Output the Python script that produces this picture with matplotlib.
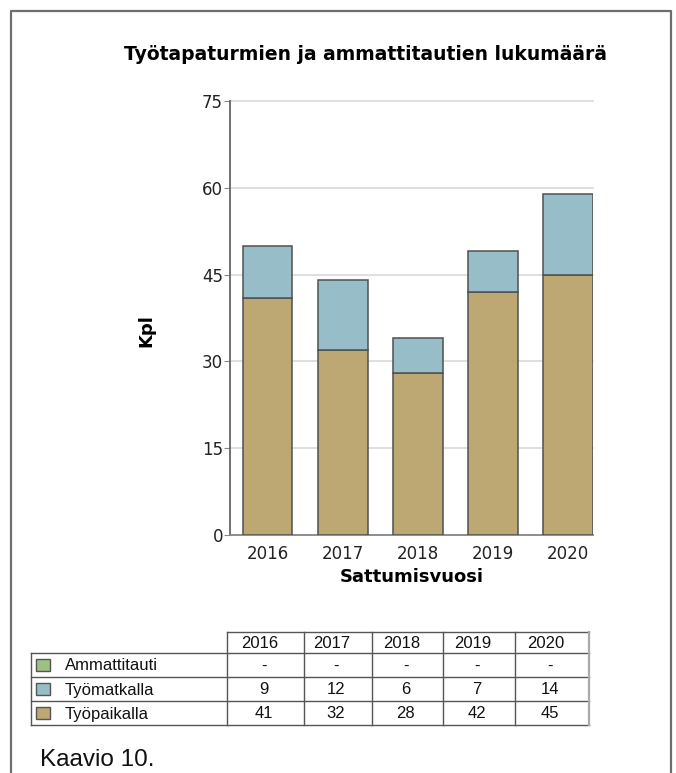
import matplotlib
matplotlib.use('Agg')
import matplotlib.pyplot as plt
import numpy as np

years = ['2016', '2017', '2018', '2019', '2020']
series_names = ['Ammattitauti', 'Työmatkalla', 'Työpaikalla']
ammattitauti = [0, 0, 0, 0, 0]
tyomatkalla = [9, 12, 6, 7, 14]
tyopaikalla = [41, 32, 28, 42, 45]
table_text = [['-', '-', '-', '-', '-'],
              [str(v) for v in tyomatkalla],
              [str(v) for v in tyopaikalla]]
yticks = [0, 15, 30, 45, 60, 75]

c_amm = '#9dc183'
c_matka = '#97bdc8'
c_paikka = '#bda874'
edge = '#505050'

W, H = 676, 773
fig = plt.figure(figsize=(W / 100, H / 100), dpi=100)

# page frame + table layer in pixel coords
bg = fig.add_axes([0, 0, 1, 1])
bg.set_xlim(0, W)
bg.set_ylim(H, 0)
bg.axis('off')
bg.plot([11, 11, 671, 671], [H, 11, 11, H], color='#6e6e6e', lw=1.6)

# chart
ax = fig.add_axes([230 / W, 1 - 535 / H, (593 - 230) / W, (535 - 101) / H])
x = np.arange(len(years))
ax.bar(x, tyopaikalla, width=0.66, color=c_paikka, edgecolor=edge, linewidth=1.1, zorder=3)
ax.bar(x, tyomatkalla, width=0.66, bottom=tyopaikalla, color=c_matka, edgecolor=edge,
       linewidth=1.1, zorder=3)
ax.set_xlim(-0.5, 4.33)
ax.set_ylim(0, 75)
ax.set_yticks(yticks)
ax.set_xticks(x)
ax.set_xticklabels(years)
ax.yaxis.grid(True, color='#d6d6d6', lw=1.1, zorder=0)
for gl in ax.get_ygridlines():
    gl.set_clip_on(False)
ax.set_axisbelow(True)
for s in ['top', 'right']:
    ax.spines[s].set_visible(False)
ax.spines['left'].set_color('#666666')
ax.spines['bottom'].set_color('#888888')
ax.spines['left'].set_linewidth(1.3)
ax.spines['bottom'].set_linewidth(1.3)
ax.tick_params(axis='y', length=4, color='#888888', labelsize=12, pad=1, labelcolor='#222222')
ax.tick_params(axis='x', length=0, labelsize=12, pad=7, labelcolor='#222222')
ax.set_xlabel('Sattumisvuosi', fontsize=13, fontweight='bold', labelpad=4)
ax.set_ylabel('Kpl', fontsize=13, fontweight='bold')
ax.yaxis.set_label_coords(-0.205, 0.472)
fig.text(366 / W, 1 - 55 / H, 'Työtapaturmien ja ammattitautien lukumäärä',
         ha='center', va='center', fontsize=13.5, fontweight='bold')

# data table
col_x = [227, 304, 372, 443, 515, 589]
row_y = [632, 653, 677, 701, 725]
left_x = 31
lc = '#555555'
bg.plot([col_x[0], col_x[-1]], [row_y[0], row_y[0]], color=lc, lw=1)
for yy in row_y[1:]:
    bg.plot([left_x, col_x[-1]], [yy, yy], color=lc, lw=1)
for xx in col_x[:-1]:
    bg.plot([xx, xx], [row_y[0], row_y[-1]], color=lc, lw=1)
bg.plot([col_x[-1], col_x[-1]], [row_y[0], row_y[-1]], color='#aaaaaa', lw=1.6)
bg.plot([left_x, left_x], [row_y[1], row_y[-1]], color=lc, lw=1)

tfont = dict(family='Liberation Sans', fontsize=12, color='#111111')
for j, yr in enumerate(years):
    cx = (col_x[j] + col_x[j + 1]) / 2 - 6
    bg.text(cx, (row_y[0] + row_y[1]) / 2 + 1, yr, ha='center', va='center', **tfont)
colors = [c_amm, c_matka, c_paikka]
for i, name in enumerate(series_names):
    cy = (row_y[i + 1] + row_y[i + 2]) / 2
    bg.add_patch(plt.Rectangle((36, cy - 6.5), 14, 12, facecolor=colors[i],
                               edgecolor='#555555', lw=1))
    bg.text(65, cy + 1, name, ha='left', va='center', **tfont)
    for j in range(len(years)):
        cx = (col_x[j] + col_x[j + 1]) / 2 - 2
        bg.text(cx, cy + 1, table_text[i][j], ha='center', va='center', **tfont)

bg.text(40, 760, 'Kaavio 10.', ha='left', va='center', family='Liberation Sans',
        fontsize=17.5, color='#111111')

fig.savefig('out.png', dpi=100)
